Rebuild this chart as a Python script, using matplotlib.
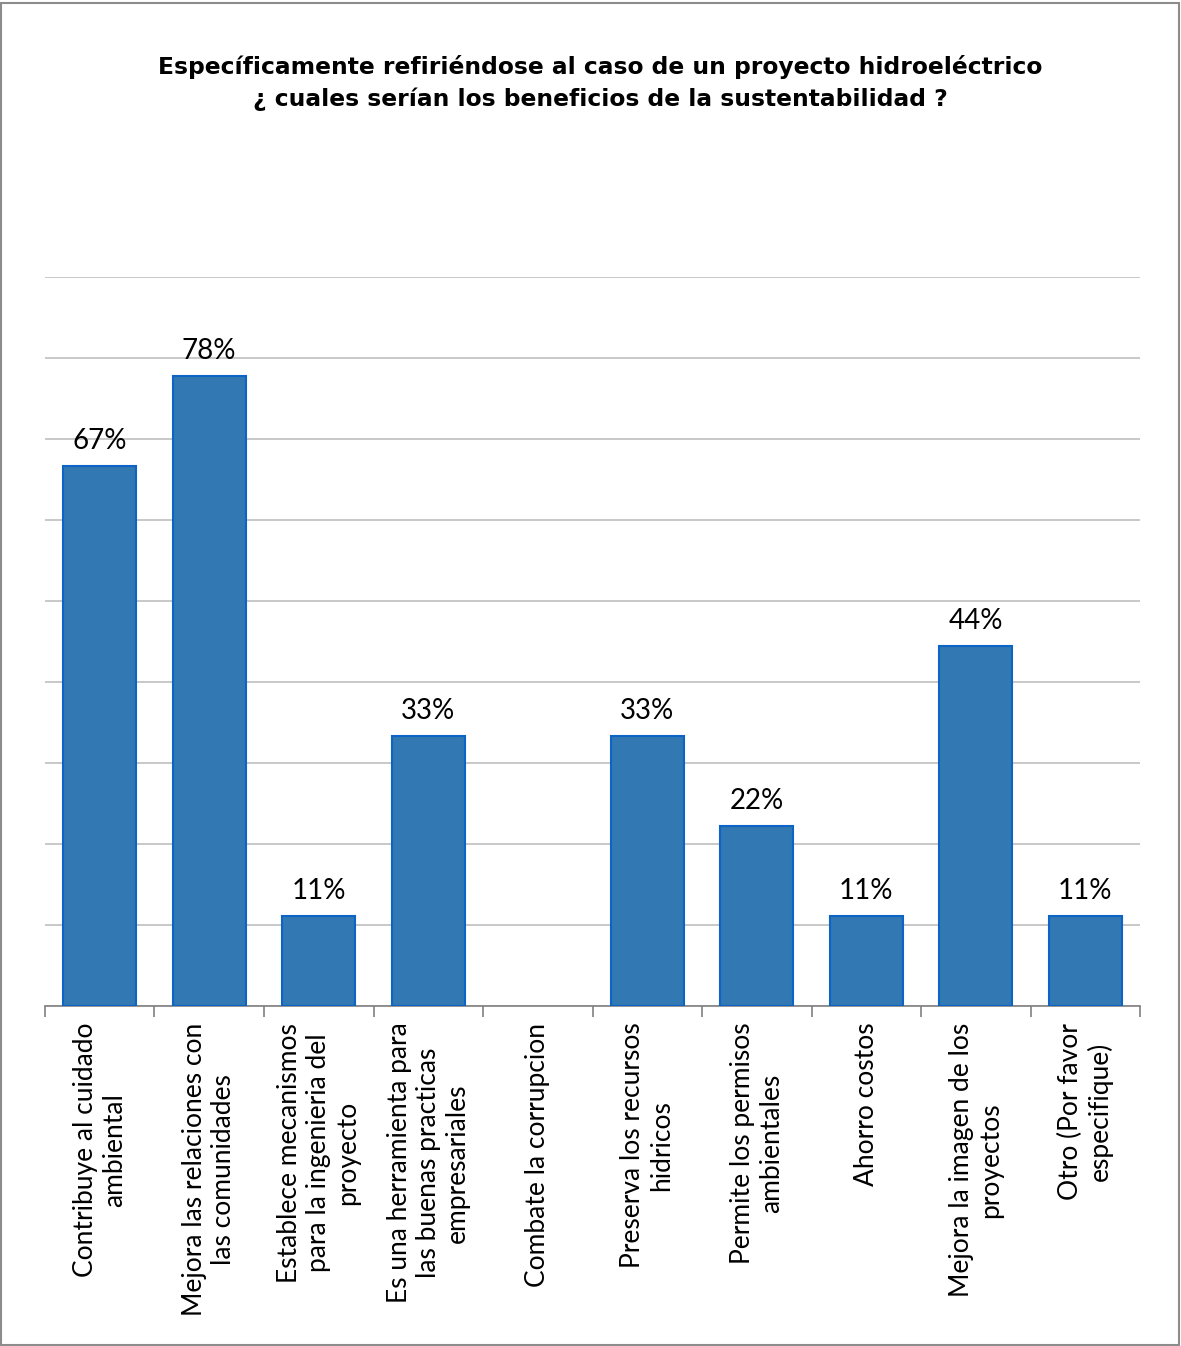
import matplotlib
matplotlib.use("Agg")
import matplotlib.pyplot as plt
from matplotlib.patches import Rectangle
import numpy as np

categories = [
    "Contribuye al cuidado\nambiental",
    "Mejora las relaciones con\nlas comunidades",
    "Establece mecanismos\npara la ingenieria del\nproyecto",
    "Es una herramienta para\nlas buenas practicas\nempresariales",
    "Combate la corrupcion",
    "Preserva los recursos\nhidricos",
    "Permite los permisos\nambientales",
    "Ahorro costos",
    "Mejora la imagen de los\nproyectos",
    "Otro (Por favor\nespecifique)",
]
values = [66.67, 77.78, 11.11, 33.33, 0, 33.33, 22.22, 11.11, 44.44, 11.11]
labels = ["67%", "78%", "11%", "33%", "", "33%", "22%", "11%", "44%", "11%"]

BAR = "#3278B2"; EDGE = "#0B64C6"; GRID = "#BFBFBF"

fig = plt.figure(figsize=(11.81, 13.46), dpi=100)
fig.patches.append(Rectangle((0.001, 0.001), 0.997, 0.997, transform=fig.transFigure,
                             fill=False, ec="#8C8C8C", lw=1.5))
ax = fig.add_axes([0.0381, 0.2526, 0.9272, 0.5416])

x = np.arange(len(categories))
bars = ax.bar(x, values, width=0.67, color=BAR, edgecolor=EDGE, lw=1.5, zorder=3)
for b, v in zip(bars, values):
    if v == 0:
        b.set_visible(False)
for xi, v, lab in zip(x, values, labels):
    if lab:
        ax.text(xi, v + 1.5, lab, ha="center", va="bottom", fontsize=20, family="Lato", color="black")

ax.set_xlim(-0.5, len(categories) - 0.5)
ax.set_ylim(0, 90)
ax.set_yticks(np.arange(0, 91, 10))
ax.yaxis.grid(True, color=GRID, lw=1.2, zorder=0)
ax.tick_params(axis="y", left=False, labelleft=False)
for s in ("top", "right", "left"):
    ax.spines[s].set_visible(False)
ax.spines["bottom"].set_color("#808080")
ax.spines["bottom"].set_linewidth(1.2)

ax.set_xticks(x)
ax.set_xticklabels(categories, rotation=90, fontsize=19, family="Lato",
                   ha="center", va="top", multialignment="center", linespacing=1.2)
ax.tick_params(axis="x", which="major", length=0, pad=12)
ax.set_xticks(np.arange(-0.5, len(categories), 1), minor=True)
ax.tick_params(axis="x", which="minor", length=8, width=1.2, color="#808080")

fig.text(0.508, 0.950, "Específicamente refiriéndose al caso de un proyecto hidroeléctrico",
         ha="center", va="center", fontsize=16.8, fontweight="bold")
fig.text(0.508, 0.926, "¿ cuales serían los beneficios de la sustentabilidad ?",
         ha="center", va="center", fontsize=16.8, fontweight="bold")

fig.savefig("out.png", dpi=100, facecolor="white")
